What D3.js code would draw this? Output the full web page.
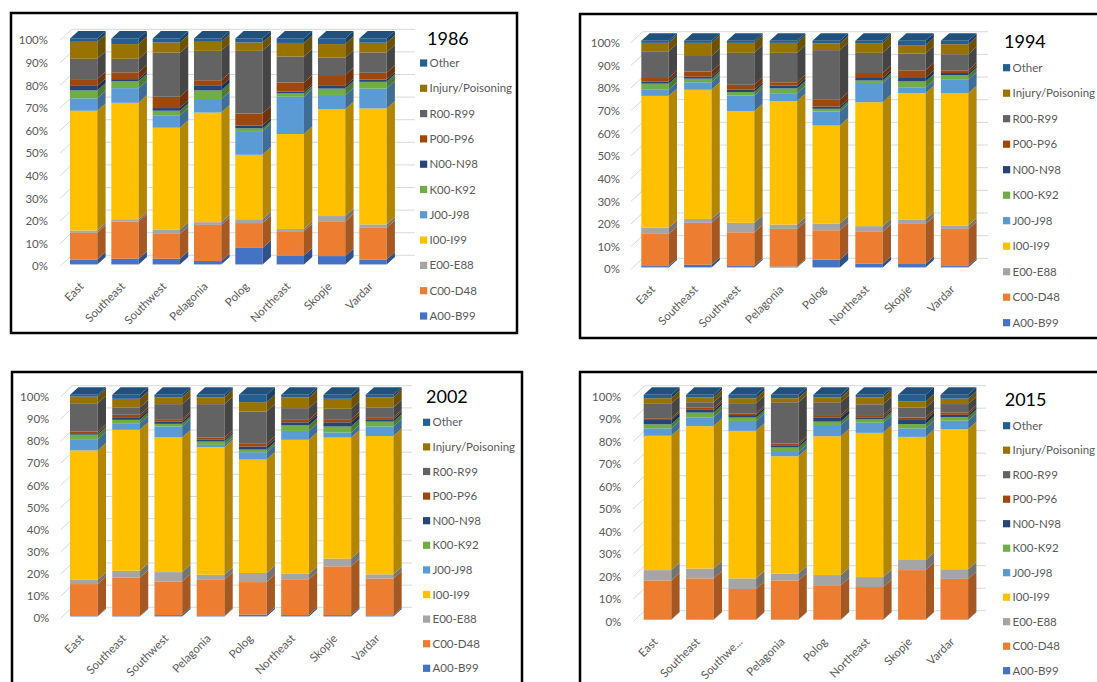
<!DOCTYPE html>
<html>
<head>
<meta charset="utf-8">
<script src="https://cdn.jsdelivr.net/npm/d3@7"></script>
<style>
  html, body { margin: 0; padding: 0; background: #fff; overflow: hidden; }
  svg { display: block; }
</style>
</head>
<body>
<svg id="chart" width="1097" height="682"></svg>
<script>
// Regions (categories) and cause-of-death groups (series)
const regions = ["East", "Southeast", "Southwest", "Pelagonia", "Polog", "Northeast", "Skopje", "Vardar"];
const tickLabels2015 = ["East", "Southeast", "Southwe...", "Pelagonia", "Polog", "Northeast", "Skopje", "Vardar"];
const seriesNames = ["A00-B99", "C00-D48", "E00-E88", "I00-I99", "J00-J98", "K00-K92",
                     "N00-N98", "P00-P96", "R00-R99", "Injury/Poisoning", "Other"];
const seriesColors = ["#4472C4", "#ED7D31", "#A5A5A5", "#FFC000", "#5B9BD5", "#70AD47",
                      "#264478", "#9E480E", "#636363", "#997300", "#255E91"];
const yTicks = [0, 0.1, 0.2, 0.3, 0.4, 0.5, 0.6, 0.7, 0.8, 0.9, 1.0];

// Share of deaths (%) per region; columns follow seriesNames
const shares1986 = [
  [2.2, 11.8, 1.0, 53.0, 5.5, 3.5, 2.0, 3.0, 9.0, 7.5, 1.5],
  [2.5, 16.5, 1.0, 51.5, 6.5, 3.0, 1.0, 3.0, 6.0, 6.5, 2.5],
  [2.5, 11.0, 2.0, 45.0, 5.5, 2.0, 1.2, 5.0, 19.5, 4.5, 1.8],
  [1.5, 16.0, 1.2, 48.5, 6.0, 3.8, 2.0, 2.5, 13.0, 4.0, 1.5],
  [7.3, 11.0, 1.7, 28.5, 10.5, 1.2, 1.3, 5.3, 27.7, 3.7, 1.8],
  [4.0, 10.7, 1.0, 42.0, 16.5, 1.5, 0.8, 4.0, 11.5, 6.0, 2.0],
  [3.7, 15.4, 2.3, 47.3, 6.3, 2.8, 1.2, 4.8, 7.7, 6.0, 2.5],
  [2.2, 14.0, 1.5, 51.3, 8.8, 3.0, 1.0, 3.0, 9.0, 4.3, 1.9]
];
const shares1994 = [
  [0.6, 14.2, 2.7, 58.2, 2.7, 2.7, 1.0, 1.5, 11.8, 3.7, 0.9],
  [1.2, 18.5, 1.7, 57.0, 3.3, 1.6, 0.9, 2.3, 6.8, 5.8, 0.9],
  [0.6, 14.9, 4.2, 49.2, 7.0, 1.5, 1.0, 2.2, 14.1, 4.4, 0.9],
  [0.4, 16.6, 1.9, 54.5, 3.5, 2.1, 1.2, 1.5, 13.0, 4.4, 0.9],
  [3.4, 13.0, 3.0, 43.2, 6.2, 1.2, 1.0, 3.0, 21.9, 2.9, 1.2],
  [1.6, 14.1, 2.5, 54.7, 8.5, 1.1, 1.1, 2.2, 8.9, 4.3, 1.0],
  [1.5, 17.7, 2.0, 55.7, 2.4, 2.8, 1.5, 3.4, 7.4, 3.7, 1.9],
  [0.6, 16.4, 1.5, 58.4, 5.9, 2.0, 1.0, 1.2, 7.1, 4.4, 1.5]
];
const shares2002 = [
  [0.2, 14.4, 1.9, 58.4, 5.1, 2.0, 0.7, 0.8, 12.7, 3.0, 0.8],
  [0.2, 17.4, 3.0, 63.6, 3.0, 1.5, 1.2, 1.1, 3.3, 3.9, 1.8],
  [0.6, 15.2, 4.2, 60.8, 4.9, 1.2, 1.1, 1.0, 6.8, 3.1, 1.1],
  [0.2, 16.3, 2.3, 57.6, 1.0, 1.5, 0.8, 1.1, 15.0, 3.1, 1.1],
  [0.8, 14.7, 4.1, 51.2, 3.3, 1.2, 1.4, 1.2, 14.6, 4.2, 3.3],
  [0.6, 16.2, 2.4, 60.5, 4.0, 2.5, 1.4, 1.1, 5.3, 4.8, 1.2],
  [0.6, 22.0, 3.5, 54.6, 2.3, 2.7, 1.9, 1.4, 4.7, 4.5, 1.8],
  [0.5, 16.6, 1.9, 62.4, 4.3, 2.2, 1.1, 0.9, 4.4, 4.6, 1.1]
];
const shares2015 = [
  [0.1, 17.4, 4.6, 59.7, 3.3, 1.8, 1.9, 0.8, 6.4, 2.5, 1.5],
  [0.1, 18.3, 4.4, 63.3, 3.9, 2.1, 1.2, 1.0, 2.4, 2.1, 1.2],
  [0.1, 13.6, 4.7, 65.6, 4.4, 1.5, 1.1, 0.8, 4.5, 2.2, 1.5],
  [0.1, 17.4, 3.1, 52.1, 1.9, 2.0, 1.0, 0.8, 18.3, 1.8, 1.5],
  [0.1, 15.3, 4.5, 61.7, 5.0, 1.5, 1.9, 1.0, 5.7, 2.1, 1.2],
  [0.1, 14.5, 4.4, 64.1, 4.5, 1.5, 0.9, 1.0, 4.8, 3.1, 1.1],
  [0.1, 22.0, 4.5, 54.7, 3.8, 1.9, 1.8, 1.1, 4.4, 2.7, 3.0],
  [0.1, 18.1, 4.3, 62.2, 3.8, 1.6, 1.0, 1.1, 3.7, 2.4, 1.7]
];

// Panel layout (pixels)
const panels = [
  { year: "1986", data: shares1986, labels: regions,
    frame: [11, 13, 506, 320], y0: 266.3, y100: 40.3, labelRight: 48, axisX: 60,
    barLeft: 70, step: 41.33, barW: 27.3, gridEnd: 415,
    titleX: 427, titleY: 39, legX: 420, legY: 63, legDy: 25.3 },
  { year: "1994", data: shares1994, labels: regions,
    frame: [580, 14, 540, 324], y0: 269.3, y100: 42.7, labelRight: 620, axisX: 631,
    barLeft: 641.3, step: 42.8, barW: 27.4, gridEnd: 988,
    titleX: 1004, titleY: 41.3, legX: 1003, legY: 67.7, legDy: 25.5 },
  { year: "2002", data: shares2002, labels: regions,
    frame: [12, 372, 510, 340], y0: 618.3, y100: 396.7, labelRight: 49.3, axisX: 60.7,
    barLeft: 70, step: 42.24, barW: 27.7, gridEnd: 412,
    titleX: 426, titleY: 397, legX: 423, legY: 422.3, legDy: 24.6 },
  { year: "2015", data: shares2015, labels: tickLabels2015,
    frame: [580, 372, 540, 340], y0: 621.7, y100: 396.7, labelRight: 621.3, axisX: 633,
    barLeft: 643.7, step: 42.4, barW: 27.6, gridEnd: 986,
    titleX: 1004.7, titleY: 400, legX: 1003, legY: 425.7, legDy: 24.5 }
];

const FONT = "Lato, 'Open Sans', sans-serif";
const TEXT_GREY = "#595959";
const wallDepth = [11.7, -11];   // offset from front floor edge to back wall
const barFront = 0.17;           // depth position of the bar front faces
const barDepth = [8.3, -7.5];    // oblique depth of each column

const svg = d3.select("#chart");

function drawPanel(p) {
  const g = svg.append("g");
  const [fx, fy, fw, fh] = p.frame;

  g.append("rect")
    .attr("x", fx).attr("y", fy).attr("width", fw).attr("height", fh)
    .attr("fill", "#fff").attr("stroke", "#000").attr("stroke-width", 2.5);

  const y = d3.scaleLinear().domain([0, 1]).range([p.y0, p.y100]);

  // back-wall gridlines with the slanted side-wall part
  g.append("g").selectAll("path").data(yTicks).join("path")
    .attr("d", t => {
      const yy = y(t);
      return `M${p.axisX},${yy}L${p.axisX + wallDepth[0]},${yy + wallDepth[1]}L${p.gridEnd},${yy + wallDepth[1]}`;
    })
    .attr("fill", "none").attr("stroke", "#D9D9D9").attr("stroke-width", 1);

  // value axis labels
  const yAxis = d3.axisLeft(y).tickValues(yTicks).tickFormat(d3.format(".0%")).tickSize(0).tickPadding(0);
  const ya = g.append("g").attr("transform", `translate(${p.labelRight},0)`).call(yAxis);
  ya.select(".domain").remove();
  ya.selectAll("text").attr("font-family", FONT).attr("font-size", 11.5).attr("fill", TEXT_GREY);

  // category scale: bandwidth equals the column width
  const pad = (p.step - p.barW) / p.step;
  const r0 = p.barLeft - (p.step - p.barW) / 2;
  const x = d3.scaleBand().domain(regions).range([r0, r0 + p.step * regions.length])
    .paddingInner(pad).paddingOuter(pad / 2);

  const shiftY = barFront * wallDepth[1];
  const yb = v => y(v) + shiftY;

  const rows = p.data.map((r, i) => Object.assign({ region: regions[i] }, r));
  const stack = d3.stack().keys(d3.range(seriesNames.length))
    .value((d, k) => d[k]).offset(d3.stackOffsetExpand);
  const layers = stack(rows);

  const bw = x.bandwidth();
  const [ddx, ddy] = barDepth;

  regions.forEach((reg, i) => {
    const bg = g.append("g");
    const x0 = x(reg);
    const xr = x0 + bw;
    layers.forEach((layer, k) => {
      const [v0, v1] = layer[i];
      const yTop = yb(v1), yBot = yb(v0);
      const col = seriesColors[k];
      bg.append("rect")
        .attr("x", x0).attr("y", yTop).attr("width", bw).attr("height", Math.max(0, yBot - yTop))
        .attr("fill", col);
      bg.append("path")
        .attr("d", `M${xr},${yTop}L${xr + ddx},${yTop + ddy}L${xr + ddx},${yBot + ddy}L${xr},${yBot}Z`)
        .attr("fill", d3.color(col).darker(1).formatHex());
    });
    // top face of the column
    const topLayer = layers[layers.length - 1][i];
    const yT = yb(topLayer[1]);
    bg.append("path")
      .attr("d", `M${x0},${yT}L${xr},${yT}L${xr + ddx},${yT + ddy}L${x0 + ddx},${yT + ddy}Z`)
      .attr("fill", d3.color(seriesColors[seriesColors.length - 1]).darker(0.45).formatHex());

    // rotated category label
    const cx = x0 + bw / 2;
    g.append("text")
      .attr("transform", `translate(${cx - 2},${p.y0 + 18}) rotate(-45)`)
      .attr("text-anchor", "end").attr("dy", "0.35em")
      .attr("font-family", FONT).attr("font-size", 11.5).attr("fill", TEXT_GREY)
      .text(p.labels[i]);
  });

  // title
  g.append("text")
    .attr("x", p.titleX).attr("y", p.titleY).attr("dy", "0.35em")
    .attr("font-family", FONT).attr("font-size", 18).attr("fill", "#000")
    .text(p.year);

  // legend (top = last series)
  const legendOrder = d3.range(seriesNames.length).reverse();
  const lg = g.append("g");
  legendOrder.forEach((k, j) => {
    const ly = p.legY + j * p.legDy;
    lg.append("rect").attr("x", p.legX).attr("y", ly - 3.6).attr("width", 7.2).attr("height", 7.2)
      .attr("fill", seriesColors[k]);
    lg.append("text").attr("x", p.legX + 9.5).attr("y", ly).attr("dy", "0.35em")
      .attr("font-family", FONT).attr("font-size", 11.5).attr("fill", TEXT_GREY)
      .text(seriesNames[k]);
  });
}

panels.forEach(drawPanel);
</script>
</body>
</html>
